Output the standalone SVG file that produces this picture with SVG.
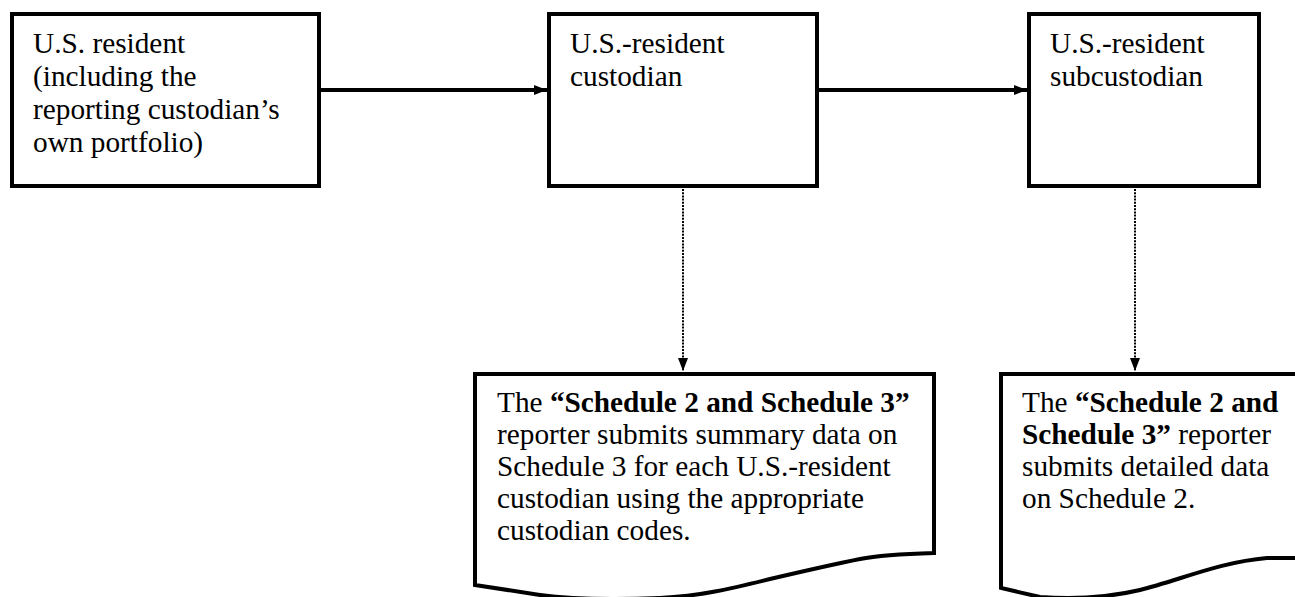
<svg xmlns="http://www.w3.org/2000/svg" width="1295" height="597" viewBox="0 0 1295 597">
<style>
.box{fill:#fff;stroke:#000;stroke-width:4}
.t{font-family:"Liberation Serif","Times New Roman",serif;font-size:29.3px;fill:#000}
.b{font-weight:bold}
.solid{stroke:#000;stroke-width:4;fill:none}
.dot{stroke:#000;stroke-width:2;fill:none;stroke-dasharray:2 1.2}
</style>
<defs>
<marker id="ah" viewBox="0 0 13 10" refX="13" refY="5" markerWidth="13" markerHeight="10" markerUnits="userSpaceOnUse" orient="auto">
<path d="M0,0 L13,5 L0,10 Z" fill="#000"/>
</marker>
<marker id="ad" viewBox="0 0 13 10" refX="13" refY="5" markerWidth="13" markerHeight="10" markerUnits="userSpaceOnUse" orient="auto">
<path d="M0,0 L13,5 L0,10 Z" fill="#000"/>
</marker>
</defs>
<g id="connectors">
<line class="solid" x1="320" y1="90" x2="547" y2="90" marker-end="url(#ah)"/>
<line class="solid" x1="818" y1="90" x2="1027" y2="90" marker-end="url(#ah)"/>
<line class="dot" x1="683" y1="189" x2="683" y2="371" marker-end="url(#ad)"/>
<line class="dot" x1="1135" y1="189" x2="1135" y2="371" marker-end="url(#ad)"/>
</g>
<g id="n1">
<rect class="box" x="12" y="14" width="307" height="172"/>
<text class="t" x="33" y="53">U.S. resident</text>
<text class="t" x="33" y="86">(including the</text>
<text class="t" x="33" y="119">reporting custodian’s</text>
<text class="t" x="33" y="152">own portfolio)</text>
</g>
<g id="n2">
<rect class="box" x="549" y="14" width="268" height="172"/>
<text class="t" x="570" y="53">U.S.-resident</text>
<text class="t" x="570" y="86">custodian</text>
</g>
<g id="n3">
<rect class="box" x="1029" y="14" width="230" height="172"/>
<text class="t" x="1050" y="53">U.S.-resident</text>
<text class="t" x="1050" y="86">subcustodian</text>
</g>
<g id="n4">
<path class="box" d="M475,374 H934 V553 C900,554 880,555 860,559 C830,565 800,572 770,579 C730,589 700,596 660,598 C610,600 570,599 540,595 L475,585 Z"/>
<text class="t" x="497" y="412">The <tspan class="b">“Schedule 2 and Schedule 3”</tspan></text>
<text class="t" x="497" y="444">reporter submits summary data on</text>
<text class="t" x="497" y="476">Schedule 3 for each U.S.-resident</text>
<text class="t" x="497" y="508">custodian using the appropriate</text>
<text class="t" x="497" y="540">custodian codes.</text>
</g>
<g id="n5">
<path class="box" d="M1001,374 H1320 V558 H1267 C1220,562 1180,580 1140,590 C1110,597 1080,600 1040,597 L1001,588 Z"/>
<text class="t" x="1022" y="412">The <tspan class="b">“Schedule 2 and</tspan></text>
<text class="t" x="1022" y="444"><tspan class="b">Schedule 3”</tspan> reporter</text>
<text class="t" x="1022" y="476">submits detailed data</text>
<text class="t" x="1022" y="508">on Schedule 2.</text>
</g>
</svg>
